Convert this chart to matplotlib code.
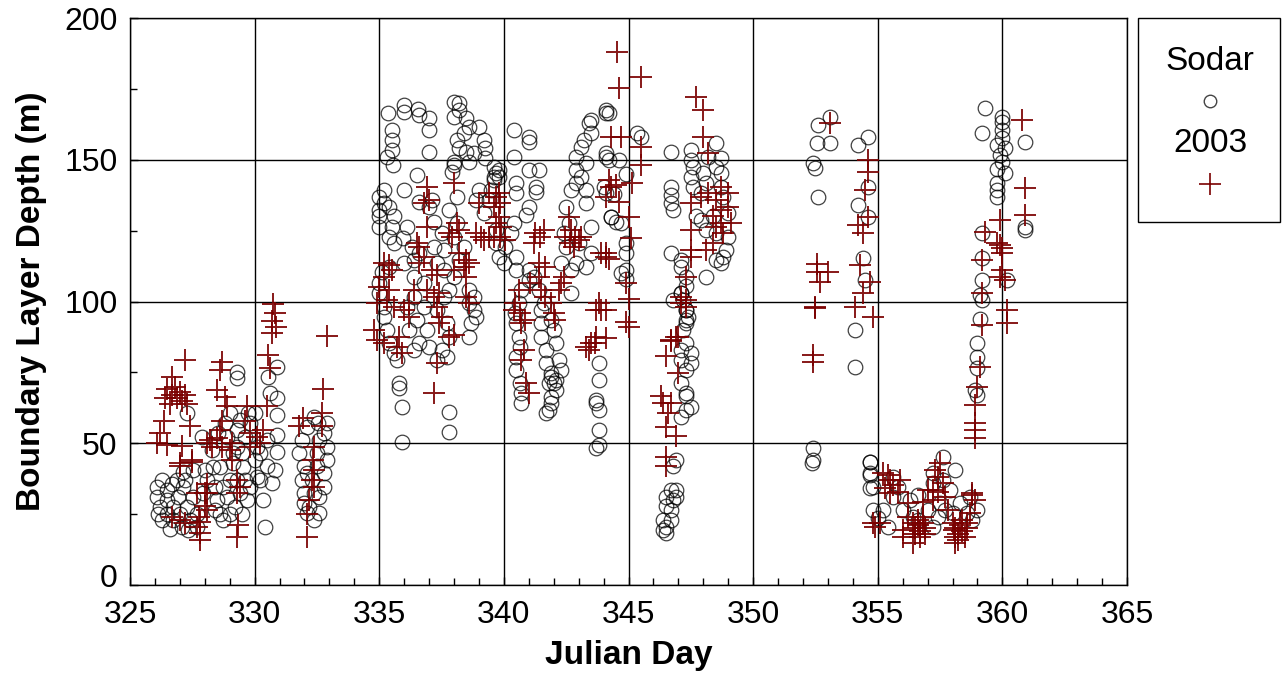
import numpy as np
import matplotlib
matplotlib.use("Agg")
import matplotlib.pyplot as plt
from matplotlib.ticker import MultipleLocator, FuncFormatter
from matplotlib.lines import Line2D
from matplotlib.patches import Rectangle

plt.rcParams['font.family'] = ['Liberation Sans', 'DejaVu Sans']

# ---- Sodar (open circles), (julian day, depth m) ----
sodar_326 = [(326.07,34.7),(326.07,31.1),(326.2,27.6),(326.27,37),(326.47,33.5),(326.47,30),(326.47,25.2),
             (326.67,35.8),(326.74,27.6),(326.74,22.9),(326.94,31.1),(327.0,25.2),(327.07,20.5),(327.14,34.7),
             (327.27,27.6),(327.4,22.9),(327.54,31.1),(327.67,25.2),(327.34,19.4),(326.27,22.9),(326.87,37),
             (327.67,20.5),(326.14,25.2),(326.6,19.9),(327.2,37)]
sodar_328 = [(328.0,40.5),(328.07,37),(327.94,32.3),(328.34,41.7),(328.4,34.7),(328.48,30),(328.6,25.2),
             (328.74,22.9),(328.88,31.1),(329.0,37),(329.14,42.9),(329.28,48.8),(329.28,54.7),(328.88,52.3),
             (328.8,57),(329.0,60.5),(329.4,58.2),(329.6,52.3),(329.55,41.7),(329.6,37),(329.4,32.3),
             (329.2,27.6),(329.68,30),(329.8,34.7),(330.08,38.2),(330.0,44),(330.08,48.8),(329.8,57),
             (330.0,60.5),(329.75,60.5),(328.54,53.5),(328.28,47.6),(327.87,52.3),(328.6,41.7),(328.4,26.4),
             (329.0,25.2),(329.5,25.2),(328.74,34.7),(329.28,37),(329.14,46.4),(329.48,46.4),(327.54,40.5),
             (327.14,40),(327.27,60.5),(329.28,75.2),(329.28,72.9),
             (330.9,77),(330.55,73.5),(330.6,67.6),(330.9,65.9),(330.9,60),(330.9,52.9),(330.9,47),
             (330.8,40.6),(330.7,35.9),(330.35,30),(330.4,20.6),(330.2,37),(330.5,41.8),(330.2,46.5),(330.5,51.2)]
sodar_332 = [(331.8,46.5),(332.0,41.8),(331.9,37),(332.0,32.3),(332.0,28.8),(332.1,25.3),(332.4,23),
             (332.6,25.3),(332.6,31.2),(332.8,34.7),(332.8,39.4),(332.9,44.1),(332.9,48.8),(332.8,53.5),
             (332.9,57),(332.4,59.4),(332.1,55.9),(331.9,51.2),(332.3,37),(332.4,32.3),(332.2,27.6),
             (332.5,41.8),(332.1,39.4),(332.5,46.5),(332.6,51.2),(332.55,57)]
sodar_335 = [(335.37,166.4),(336.0,169.3),(336.0,167),(336.57,168),(336.6,165.8),(337.0,164.6),(337.0,160.5),
             (335.5,160.5),(335.5,157),(335.5,153.4),(335.3,151),(335.57,148),(337.0,152.9),
             (338.0,170.5),(338.2,169.9),(338.2,167.5),(338.0,165.2),(338.5,164.6),(338.6,161.7),(338.4,159.3),
             (338.1,157),(338.2,154),(338.5,152.9),(338.8,152.3),(339.0,161.7),(339.2,157),(339.25,154),
             (339.25,150.5),(338.6,149.3),(338.0,149.3),(337.9,145.8),(338.0,148),
             (339.6,147.6),(339.6,144),(339.6,142.9),(339.7,145.2),
             (335.2,139.3),(335.0,137),(335.2,134.6),(335.0,132.3),(335.0,130),(335.0,126.4),(335.4,133.4),
             (335.6,130),(335.5,126.4),(335.4,122.9),(335.6,120.5),(335.97,122.3),(336.1,126.4),(336.0,139.3),
             (336.5,144.6),(336.6,135.2),(337.0,133.4),(337.1,135.8),(337.2,128.2),(337.5,124),(337.2,119.3),
             (337.6,118.2),(336.3,119.3),(336.6,117),(336.4,114.6),(336.0,113.5),(335.4,112.3),(335.1,110.5),
             (335.0,106.4),(335.0,102.9),(335.2,98.2),(335.2,94.6),(335.3,90),(335.4,85.2),(335.6,81.7),
             (335.7,79.4),(335.8,71.1),(335.8,69.4),(335.9,62.9),(337.8,61.1),(337.8,54.1),(335.9,50.6),
             (336.4,108.8),(336.8,106.4),(336.4,101.7),(336.8,98.2),(336.5,93.5),(336.9,90),(336.6,85.2),
             (336.4,82.9),(336.2,90),(336.1,98.2),(337.3,113.5),(337.6,111.1),(338.0,108.8),(337.8,104),
             (337.6,101.7),(337.3,97),(337.7,92.3),(337.8,87.6),(337.5,82.9),(337.0,84.1),(337.3,79.4),
             (337.7,80.5),(338.1,127.6),(338.0,122.9),(338.4,119.3),(338.2,114.6),(338.1,137),(337.8,132.3),
             (338.6,104),(338.6,99.4),(338.8,97),(338.9,94.6),(338.7,92.3),(338.6,87.6),(338.8,101.7),
             (339.8,115.8),(339.7,120.5),(339.7,125.2),(339.5,139.3),(339.4,135.8),(339.2,131.1),(339.0,139.3),
             (338.9,135.8)]
sodar_340 = [(340.4,160.5),(341.0,158.1),(341.0,156.4),(340.4,151),(339.8,146.4),(339.8,144),(341.0,146.4),
             (341.4,146.4),(341.3,140.5),(341.3,138.7),(340.5,141.7),(340.5,138.1),(341.0,133.4),(340.9,130.5),
             (340.4,127.6),(340.3,124),(340.05,119.3),(340.0,113.5),(340.5,115.8),(340.5,111.1),(341.0,111.1),
             (341.0,107.6),(340.7,104),(340.6,99.4),(340.45,95.8),(340.5,92.3),(340.6,87.6),(340.65,84.1),
             (340.5,80.5),(340.5,75.8),(340.65,71.1),(340.7,67.6),(340.7,64.1),
             (341.2,108.8),(341.4,104),(341.5,97),(341.5,92.3),(341.5,87.6),(341.7,82.9),(341.7,78.2),
             (341.9,74.7),(342.0,71.1),(341.9,66.4),(341.8,61.7),(342.1,68.8),(342.2,79.4),(342.1,85.2),
             (342.0,90),(341.9,93.5),(341.6,99.4),(341.9,73.5),(342.1,72.3),(342.3,75.8),
             (342.3,113.5),(342.5,119.3),(342.4,124),(342.6,127.6),(342.5,133.4),(342.7,139.3),(342.9,146.4),
             (342.9,151),(343.1,154.6),(343.2,157),(343.4,162.8),(343.5,164),(343.5,159.3),(343.3,148.7),
             (343.1,144),(342.9,141.7),(343.3,139.3),(343.3,134.6),(342.7,111.1),(342.9,113.5),(343.3,112.3),
             (343.5,117),(343.5,126.4),(343.0,120.5),(342.7,102.9),
             (344.1,167.5),(344.2,166.4),(344.1,152.3),(344.2,149.9),(344.0,140.5),(344.1,138.1),(344.3,129.9),
             (344.7,127.6),(344.7,110),(343.8,78.2),(343.8,72.3),(343.7,64.1),(343.8,61.7),(343.8,54.7),
             (343.8,49.4),(343.7,48.2),(343.7,65.3),(341.8,71.1),(341.9,64.1),(341.7,60.6),
             (344.1,166.5),(345.35,159.4),(345.5,158),(344.1,151),(344.6,150),(344.9,145),(344.4,138),
             (344.3,129.8),(344.5,128),(344.9,120.6),(344.9,117),(344.9,111),(344.9,108)]
sodar_346 = [(346.7,152.9),(346.7,140.5),(346.7,137.6),(346.7,134.7),(346.8,132.3),(347.5,153.5),(347.5,150),
             (347.6,147.6),(347.5,144),(347.6,140.5),(348.0,145.2),(348.2,151.1),(348.5,155.8),(348.7,150.5),
             (348.5,147.6),(348.7,145.2),(348.1,141.7),(347.9,138.2),(348.7,140.5),(348.8,137),(349.0,131.1),
             (348.4,130),(347.9,128.8),(347.7,130),(348.1,125.3),(348.5,124.1),(349.0,122.9),(348.9,118.2),
             (348.8,115.8),(348.7,113.5),(348.5,114.7),(348.1,108.8),(346.7,117),(347.1,114.7),(347.1,112.3),
             (347.3,108.8),(347.3,105.3),(347.1,102.9),(347.2,100.6),(347.3,97),(347.3,93.5),(347.2,90),
             (347.3,85.3),(347.1,82.9),(347.1,79.4),(347.3,75.9),(347.1,71.2),(347.3,67.6),(347.3,61.8),
             (347.1,59.4),(346.9,44.1),(346.8,41.8),(346.7,33.5),(346.5,31.2),(346.9,31.2),(346.5,27.7),
             (346.7,26.5),(346.4,23),(346.5,20.6),(346.4,19.4),(346.7,23),(346.8,30),(346.9,33.5),(346.5,18.3),
             (347.3,97),(347.4,94.7),(347.1,102.9),(346.8,100.6),(347.5,81.7),(347.5,78.2),(347.3,66.5),
             (347.5,62.9),(347.3,92.3)]
sodar_352 = [(353.1,165.2),(352.6,162.2),(352.55,155.8),(353.1,155.8),(352.4,148.7),(352.5,147),(352.6,137),
             (354.2,155.2),(354.6,158.1),(354.6,140.5),(354.2,134),(354.6,129.9),(354.4,115.2),(354.5,107.6),
             (354.1,89.9),(354.1,77),(352.4,48.2),(352.35,42.9),(352.4,44.1),(354.7,43.5),(354.7,38.8),
             (354.8,34.7)]
sodar_355 = [(354.7,43.5),(354.7,39.4),(354.7,34.1),(354.8,26.5),(355.0,23.5),(355.4,20.6),(355.6,38.2),
             (355.8,34.7),(355.6,31.2),(356.3,30),(356.4,24.1),(357.0,26.5),(357.2,20.6),(357.4,24.1),
             (357.2,35.9),(357.2,39.4),(357.6,45.3),(358.1,40.6),(357.6,37),(357.9,33.5),(357.5,28.8),
             (358.0,25.3),(358.7,31.2),(359.0,26.5),(358.8,23),(358.6,25.3),(355.2,26.5),(356.0,26.5),
             (356.6,23),(358.3,28.8),(357.7,26.5),(356.6,31.8)]
sodar_359 = [(359.3,168.1),(359.2,159.3),(360.0,165.2),(360.0,163.4),(360.0,160.5),(360.0,157.5),(359.8,155.2),
             (360.1,154),(359.9,151.6),(360.0,149.3),(359.8,146.9),(360.1,145.2),(359.8,141.7),(359.8,139.3),
             (359.8,136.9),(360.9,156.3),(360.9,126.4),(360.9,125.2),(359.2,124),(359.2,115.2),(359.2,107.6),
             (360.2,107.6),(359.1,102.3),(359.2,100.5),(359.1,94),(359.0,85.2),(359.0,80.5),(359.0,76.4),
             (358.9,68.8),(359.0,67)]

# ---- 2003 (plus markers) ----
ppi_326 = [(327.2,79.4),(326.7,73.5),(326.5,69),(326.7,67),(326.8,70),(326.9,66),(327.0,68),(327.1,65),
           (327.2,67),(327.3,64),(326.6,64),(326.4,66),(327.4,56),(326.35,58),(326.2,53.5),(326.1,50),
           (326.5,49.4),(327.1,49),(327.0,43),(327.5,44),(327.7,32.3),(328.1,32.3),(327.0,23),(327.7,20.5),
           (327.8,18.2),(327.8,22.3),(327.75,24),(328.0,28),(327.8,16),(326.7,24),(327.2,21.7)]
ppi_328 = [(328.7,78.8),(328.6,75.8),(328.5,68.8),(328.8,66.4),(328.9,63),(328.7,58),(328.6,54.7),(328.2,51),
           (328.3,48.8),(328.5,52),(328.1,50),(328.7,48.8),(329.0,47.6),(329.1,44),(329.3,37),(329.4,34.7),
           (329.3,32.3),(329.35,21),(329.3,17),(329.7,63),(329.6,58),(329.8,53.5),(330.1,52.3),(330.2,50),
           (330.35,54.7),(330.5,63),(329.8,48.8),(329.1,50),(327.0,42),(327.5,43.5),(328.0,32.3),(328.1,26.5),
           (328.1,35.8),
           (330.75,99),(330.8,96),(330.7,93),(330.85,91),(330.7,89),(330.55,81),(330.6,76.5)]
ppi_332 = [(332.9,88),(332.75,69),(331.95,59),(331.8,56),(332.7,60.5),(332.7,56),(332.4,40.5),(332.3,37),
           (332.4,34.6),(332.2,30),(332.1,25),(332.1,17),(332.35,44),(332.4,48.8)]
ppi_335 = [(336.9,140.5),(337.0,135.8),(336.8,134.6),(338.0,141.7),(338.1,127.6),(338.2,125.2),(337.9,122.9),
           (339.0,134.6),(339.4,138.1),(339.7,137),(339.6,133.4),(338.9,124),(339.1,122.9),(339.2,121.7),
           (339.4,122.9),(339.7,127.6),(339.6,122.9),(336.9,126.4),(336.5,120.5),(336.6,119.3),(336.8,115.8),
           (336.6,113.5),(337.1,111.1),(337.3,109.3),(336.9,104),(335.2,113.5),(335.4,112.9),(335.5,111.1),
           (335.2,108.8),(335.0,105.2),(334.9,99.4),(335.4,104),(335.3,100.5),(335.6,98.2),(336.0,97),
           (336.2,99.4),(336.4,104),(336.2,94.6),(334.8,90),(334.9,86.4),(335.2,85.2),(335.8,87.6),
           (335.7,84.1),(335.9,81.7),(337.3,98.2),(337.5,94.6),(337.4,92.3),(337.8,87.6),(338.0,88.2),
           (337.4,102.9),(337.2,101.7),(337.3,78.2),(337.2,67.6),(338.5,114.6),(338.6,113.5),(338.5,108.8),
           (338.4,112.3),(338.0,111.1),(338.2,117),(337.8,124),(338.6,99.4),(338.5,101.7)]
ppi_340 = [(339.8,138.1),(339.85,134.6),(339.8,129.9),(339.9,126.4),(340.05,121.7),(339.85,122.9),
           (341.25,124),(341.45,122.9),(341.2,120.5),(341.6,125.2),(341.4,113.5),(341.65,112.3),(341.4,108.8),
           (341.05,106.4),(340.6,104),(340.45,99.4),(340.4,97),(340.65,95.8),(340.85,93.5),(340.7,92.3),
           (341.5,104),(341.65,101.7),(341.9,99.4),(342.2,104),(342.3,106.4),(342.4,108.8),(342.0,95.8),
           (342.05,93.5),(340.8,82.9),(340.7,79.4),(340.9,71.1),(341.0,67.6),(342.6,129.9),(342.7,125.2),
           (342.85,122.9),(343.0,121.7),(342.65,120.5),(342.45,122.9),(342.8,119.3),(343.1,122.9),
           (344.2,142.9),(344.3,140.5),(344.1,137),(344.3,158.1),(343.9,117),(344.1,115.8),(343.8,99.4),
           (343.7,97),(343.7,87.6),(343.5,85.2),(343.3,84.1),(343.4,82.9),(343.65,85.2),(343.9,97),
           (344.55,188),(344.6,175.3),(345.5,179.2),(344.7,158),(345.5,154.5),(345.5,148),(345.15,141.8),
           (344.5,141),(344.6,135),(345.0,129.8),(345.1,122.4),(344.1,117),(344.2,115),(344.9,106.5),
           (345.0,101),(344.1,97),(344.9,92.8),(345.0,91),(344.1,87)]
ppi_346 = [(347.7,172.3),(348.0,167.6),(348.0,158.2),(348.2,152.3),(347.5,134.7),(347.9,137),(348.2,138.2),
           (348.5,135.8),(348.7,132.3),(349.0,138.2),(349.0,133.5),(348.7,140.5),(348.4,130),(348.5,126.4),
           (348.8,124.1),(348.4,120.5),(348.1,118.2),(348.7,127.6),(349.1,127.6),(347.5,125.3),(347.5,118.2),
           (347.5,115.8),(347.3,108.8),(347.1,101.7),(347.3,100.6),(347.3,98.2),(347.1,99.4),(346.9,87.6),
           (346.7,85.9),(346.7,86.5),(347.0,87.6),(346.5,80.6),(347.0,74.7),(346.3,66.5),(346.4,64.1),
           (346.7,64.1),(346.6,60.6),(346.5,55.9),(346.9,52.4),(346.5,45.3),(346.5,41.8)]
ppi_352 = [(353.1,162.8),(354.6,149.9),(354.6,145.8),(354.5,139.3),(354.6,129.9),(354.2,126.9),(354.4,124),
           (352.55,113.4),(352.55,110.5),(353.0,110.5),(352.7,107),(354.3,112.8),(354.7,107),(354.4,102.9),
           (354.1,98.2),(352.5,97.6),(352.5,98.2),(354.8,94.6),(352.4,81.1),(352.4,78.7)]
ppi_355 = [(355.5,37),(355.4,38.8),(355.6,35.3),(355.3,34.1),(355.8,32.9),(355.5,32.3),(355.2,39.4),
           (355.9,37),(355.1,21.8),(354.9,20.6),(356.2,28.8),(356.2,24.1),(356.0,19.4),(356.0,17.1),
           (356.4,14.7),(356.4,22),(356.5,20),(356.6,21),(356.7,19),(356.8,22),(356.9,20),(356.5,18),
           (356.7,17),(356.9,18),(356.6,23),(356.8,24),(357.4,38.2),(357.5,42.9),(357.3,40.6),(357.6,35.9),
           (357.2,33.5),(357.4,32.9),(357.7,31.2),(357.2,30),(357.8,26.5),(357.0,33.5),(356.8,29.4),
           (358.8,32.3),(358.9,30),(358.7,25.3),(358.6,21.8),(358.05,19.4),(358.1,14.7),(358.0,22),
           (358.1,20),(358.2,18),(358.3,21),(358.4,19),(358.5,17),(358.6,20),(358.2,16),(358.4,23),
           (358.1,17),(354.8,21.8)]
ppi_359 = [(360.8,164),(360.9,139.9),(360.9,130.5),(359.9,128.7),(359.3,124.6),(359.9,119.9),(360.0,118.7),
           (359.8,120.5),(360.0,117),(359.2,114.6),(360.0,111),(360.1,107.6),(359.9,108.8),(359.2,102.9),
           (360.2,97),(360.2,92.3),(359.2,91.7),(359.1,77),(359.0,69.9),(358.9,63.5),(358.9,57),
           (358.9,54.7),(358.9,51.7),(358.8,31.7)]

sodar = np.array(sodar_326 + sodar_328 + sodar_332 + sodar_335 + sodar_340 +
                 sodar_346 + sodar_352 + sodar_355 + sodar_359)
ppi = np.array(ppi_326 + ppi_328 + ppi_332 + ppi_335 + ppi_340 +
               ppi_346 + ppi_352 + ppi_355 + ppi_359)

red = '#7a0000'

fig = plt.figure(figsize=(12.82, 6.75), dpi=100)
ax = fig.add_axes([130/1282, 1 - 585/675, (1127-130)/1282, (585-18)/675])

ax.plot(sodar[:, 0], sodar[:, 1], 'o', ms=10.5, mfc='none', mec='black', mew=0.9, alpha=0.75, zorder=3)
ax.plot(ppi[:, 0], ppi[:, 1], '+', ms=16, mec=red, mew=1.4, alpha=0.9, zorder=4)

ax.set_xlim(325, 365)
ax.set_ylim(0, 200)
ax.xaxis.set_major_locator(MultipleLocator(5))
ax.xaxis.set_minor_locator(MultipleLocator(1))
ax.yaxis.set_major_locator(MultipleLocator(50))
ax.yaxis.set_minor_locator(MultipleLocator(25))
# the "0" label is placed by hand, a touch higher, so it does not run into "325"
ax.yaxis.set_major_formatter(FuncFormatter(lambda v, p: '' if v == 0 else '%d' % v))
ax.grid(True, which='major', color='black', lw=1.0, zorder=1)
ax.tick_params(which='both', direction='in', labelsize=23, width=1.0)
ax.tick_params(which='major', length=6)
ax.tick_params(which='minor', length=5)
ax.tick_params(axis='x', which='both', top=False, pad=11)
ax.tick_params(axis='y', which='both', right=False, pad=9)
for s in ax.spines.values():
    s.set_linewidth(1.0)
ax.annotate('0', xy=(0, 0), xycoords='axes fraction', xytext=(-9, 4), textcoords='offset points',
            ha='right', va='center', fontsize=23)

ax.set_xlabel('Julian Day', fontsize=24, fontweight='bold', labelpad=7)
ax.set_ylabel('Boundary Layer Depth (m)', fontsize=24, fontweight='bold', labelpad=12)

# legend box drawn by hand (title-style labels above the markers)
fig.patches.append(Rectangle((1138/1282, 1 - 222/675), (1280-1138)/1282, (222-18)/675,
                             transform=fig.transFigure, fill=False, edgecolor='black', lw=1.0))
fig.text(1210/1282, 1 - 62/675, 'Sodar', ha='center', va='center', fontsize=24)
fig.text(1210/1282, 1 - 143/675, '2003', ha='center', va='center', fontsize=24)
fig.lines.append(Line2D([1210/1282], [1 - 101/675], transform=fig.transFigure, marker='o', ms=9,
                        mfc='none', mec='#444444', mew=1.0, ls='none'))
fig.lines.append(Line2D([1210/1282], [1 - 184/675], transform=fig.transFigure, marker='+', ms=16,
                        mec=red, mew=1.2, ls='none'))

fig.savefig('out.png', dpi=100)
